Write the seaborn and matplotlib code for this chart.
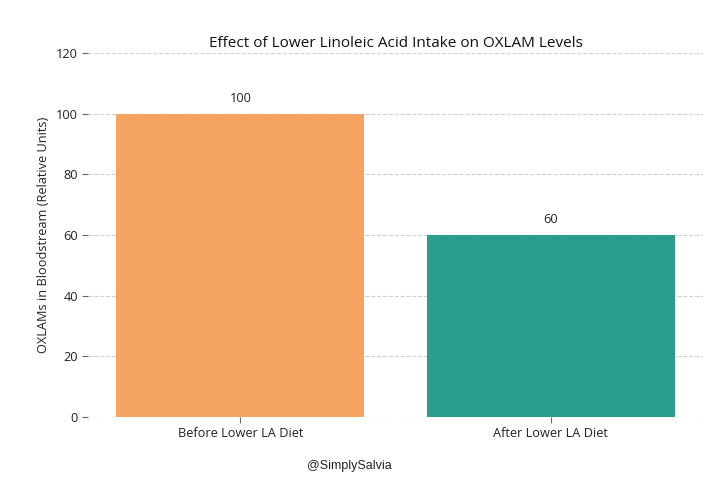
import matplotlib
matplotlib.use("Agg")
import matplotlib.pyplot as plt
import seaborn as sns
import pandas as pd

phases = ["Before Lower LA Diet", "After Lower LA Diet"]
oxlam_levels = [100, 60]
bar_colors = ["#F4A460", "#2A9D8F"]

sns.set_theme(style="white")
plt.rcParams['font.family'] = ['Open Sans', 'DejaVu Sans']

df = pd.DataFrame({"Phase": phases, "OXLAM": oxlam_levels})

f, ax = plt.subplots(figsize=(7.12, 4.86), dpi=100)
f.subplots_adjust(left=0.124, right=0.987, top=0.891, bottom=0.142)

sns.barplot(data=df, x="Phase", y="OXLAM", hue="Phase", palette=bar_colors,
            legend=False, width=0.8, saturation=1, linewidth=0, ax=ax, zorder=2)

for i, v in enumerate(oxlam_levels):
    ax.text(i, v + 3, str(v), ha="center", va="bottom", fontsize=9.2, color="#222222")

ax.set_ylim(0, 120)
ax.set_xlim(-0.49, 1.49)
ax.set_yticks(range(0, 121, 20))
ax.yaxis.grid(True, linestyle="--", color="#d0d0d0", linewidth=0.8, zorder=0)
ax.set_axisbelow(True)
sns.despine(left=True, bottom=True)
ax.tick_params(axis="both", which="both", length=4, width=0.8, color="#666666",
               labelsize=9.2, labelcolor="#222222", left=True, bottom=True)

ax.set_title("Effect of Lower Linoleic Acid Intake on OXLAM Levels", fontsize=11, pad=4, color="#111111")
ax.set_xlabel("")
ax.set_ylabel("OXLAMs in Bloodstream (Relative Units)", fontsize=9.2, color="#222222")

f.text(0.49, 0.035, "@SimplySalvia", ha="center", fontsize=9, color="#222222",
       family=["Liberation Sans", "DejaVu Sans"])

f.savefig("out.png", dpi=100)
